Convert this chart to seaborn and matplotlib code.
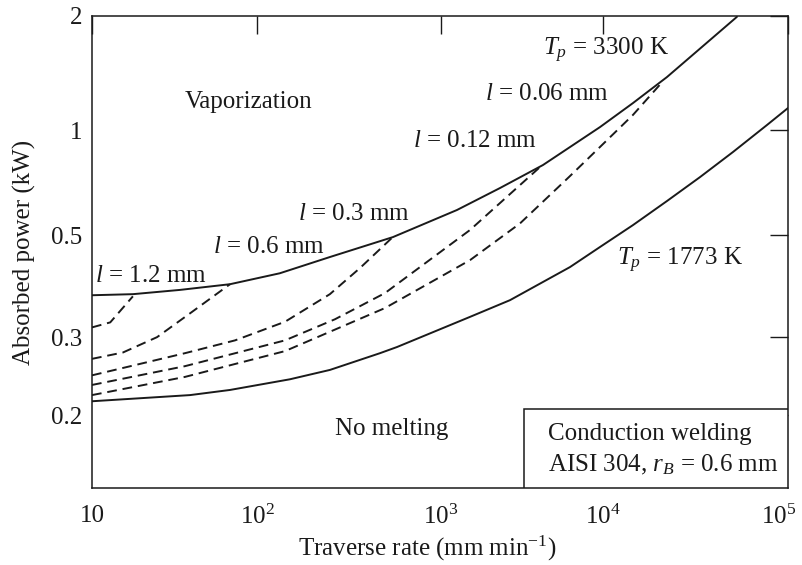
import numpy as np
import pandas as pd
import seaborn as sns
import matplotlib.pyplot as plt
import matplotlib.transforms as mtransforms
from matplotlib.patches import Rectangle
from matplotlib.ticker import FixedLocator, FixedFormatter, NullLocator

# Curves (traverse rate in mm/min, absorbed power in kW)
rate_3300 = [10, 17.7, 34.1, 68.6, 133, 249, 548, 1255, 2313, 4264, 9580, 14520, 22180, 33450, 53000]
power_3300 = [0.370, 0.372, 0.380, 0.391, 0.413, 0.448, 0.495, 0.590, 0.682, 0.794, 1.018, 1.178, 1.38, 1.64, 1.99]

rate_1773 = [10, 39.3, 68.6, 151, 249, 466, 577, 1510, 2667, 6255, 9580, 14520, 22180, 33450, 50430, 77000, 100000]
power_1773 = [0.215, 0.222, 0.228, 0.241, 0.253, 0.276, 0.285, 0.332, 0.361, 0.426, 0.471, 0.534, 0.626, 0.733, 0.865, 1.031, 1.143]

rate_l12 = [10, 12.9, 17.7]
power_l12 = [0.315, 0.323, 0.368]
rate_l06 = [10, 15.4, 24.8, 39.3, 68.6]
power_l06 = [0.268, 0.277, 0.300, 0.338, 0.391]
rate_l03 = [10, 36.6, 73.6, 142, 249, 363, 541]
power_l03 = [0.246, 0.276, 0.295, 0.324, 0.372, 0.424, 0.493]
rate_l012 = [10, 36.6, 142, 265, 496, 1510, 4084]
power_l012 = [0.234, 0.258, 0.295, 0.328, 0.374, 0.517, 0.783]
rate_l006 = [10, 36.6, 142, 496, 1510, 3075, 6255, 9580, 14520, 21100]
power_l006 = [0.222, 0.244, 0.279, 0.347, 0.441, 0.540, 0.738, 0.894, 1.096, 1.345]

x_ticks = [10, 100, 1000, 10000, 100000]
x_ticklabels = ["10", "$10^2$", "$10^3$", "$10^4$", "$10^5$"]
y_ticks = [0.2, 0.3, 0.5, 1, 2]
y_ticklabels = ["0.2", "0.3", "0.5", "1", "2"]

curves = [
    ("Tp3300", "solid", rate_3300, power_3300),
    ("Tp1773", "solid", rate_1773, power_1773),
    ("l1.2", "dashed", rate_l12, power_l12),
    ("l0.6", "dashed", rate_l06, power_l06),
    ("l0.3", "dashed", rate_l03, power_l03),
    ("l0.12", "dashed", rate_l012, power_l012),
    ("l0.06", "dashed", rate_l006, power_l006),
]
df = pd.concat(
    [pd.DataFrame({"rate": r, "power": p, "curve": name, "kind": kind}) for name, kind, r, p in curves],
    ignore_index=True,
)


# the printed log axes are not evenly spaced, so follow the printed decades
def piecewise_log(logs, pos):
    logs = np.asarray(logs, float)
    pos = np.asarray(pos, float)
    s_lo = (pos[1] - pos[0]) / (logs[1] - logs[0])
    s_hi = (pos[-1] - pos[-2]) / (logs[-1] - logs[-2])

    def fwd(v):
        lv = np.log10(np.maximum(np.asarray(v, float), 1e-9))
        out = np.interp(lv, logs, pos)
        out = np.where(lv < logs[0], pos[0] + (lv - logs[0]) * s_lo, out)
        out = np.where(lv > logs[-1], pos[-1] + (lv - logs[-1]) * s_hi, out)
        return out

    def inv(p):
        p = np.asarray(p, float)
        lv = np.interp(p, pos, logs)
        lv = np.where(p < pos[0], logs[0] + (p - pos[0]) / s_lo, lv)
        lv = np.where(p > pos[-1], logs[-1] + (p - pos[-1]) / s_hi, lv)
        return 10 ** lv

    return fwd, inv


sns.set_style("white")
plt.rcParams["font.family"] = ["Liberation Serif", "DejaVu Serif"]
plt.rcParams["mathtext.fontset"] = "custom"
plt.rcParams["mathtext.rm"] = "Liberation Serif"
plt.rcParams["mathtext.it"] = "Liberation Serif:italic"
plt.rcParams["axes.unicode_minus"] = True

fig = plt.figure(figsize=(8.02, 5.65), dpi=100)
ax = fig.add_axes([0.1147, 0.1363, 0.8678, 0.8354])

ink = "#1a1a1a"
sns.lineplot(data=df, x="rate", y="power", units="curve", estimator=None,
             style="kind", dashes={"solid": "", "dashed": (5, 3)},
             color=ink, linewidth=1.4, legend=False, ax=ax)

ax.set_xscale("function", functions=piecewise_log(np.log10(x_ticks), [0, 165, 349, 511, 696]))
ax.set_yscale("function", functions=piecewise_log(np.log10(y_ticks), [73, 151, 253, 358, 472]))
ax.set_xlim(10, 1e5)
ax.set_ylim(0.137, 2)

ax.xaxis.set_major_locator(FixedLocator(x_ticks))
ax.xaxis.set_major_formatter(FixedFormatter(x_ticklabels))
ax.yaxis.set_major_locator(FixedLocator(y_ticks))
ax.yaxis.set_major_formatter(FixedFormatter(y_ticklabels))
ax.xaxis.set_minor_locator(NullLocator())
ax.yaxis.set_minor_locator(NullLocator())

ax.tick_params(direction="in", length=13, width=1.0, color=ink, top=True, right=True,
               labelsize=18, labelcolor=ink)
ax.tick_params(axis="x", pad=12)
ax.tick_params(axis="y", pad=7)
for s in ax.spines.values():
    s.set_color(ink)
    s.set_linewidth(1.1)

# keep the last x tick label inside the figure
last = ax.get_xticklabels()[-1]
last.set_transform(last.get_transform() + mtransforms.ScaledTranslation(-7 / 72, 0, fig.dpi_scale_trans))

ax.set_xlabel("Traverse rate (mm min$^{-1}$)", fontsize=18, color=ink)
ax.set_ylabel("Absorbed power (kW)", fontsize=18, color=ink)
ax.xaxis.set_label_coords(0.481, -0.097)
ax.yaxis.set_label_coords(-0.08, 0.5)

# region and curve labels
labels = [
    (0.1336, 0.805, "Vaporization"),
    (0.0043, 0.4364, "$l$ = 1.2 mm"),
    (0.1739, 0.4979, "$l$ = 0.6 mm"),
    (0.296, 0.5678, "$l$ = 0.3 mm"),
    (0.4612, 0.7225, "$l$ = 0.12 mm"),
    (0.5647, 0.822, "$l$ = 0.06 mm"),
    (0.648, 0.9174, "$T_p$ = 3300 K"),
    (0.7543, 0.4725, "$T_p$ = 1773 K"),
    (0.3491, 0.1123, "No melting"),
]
for fx, fy, txt in labels:
    ax.text(fx, fy, txt, transform=ax.transAxes, ha="left", va="baseline", fontsize=18, color=ink)

# conditions box in the lower right corner
ax.add_patch(Rectangle((0.6207, 0), 1 - 0.6207, 0.1674, transform=ax.transAxes,
                       facecolor="white", edgecolor=ink, linewidth=1.1, zorder=3))
ax.text(0.6552, 0.1017, "Conduction welding", transform=ax.transAxes,
        ha="left", va="baseline", fontsize=18, color=ink, zorder=4)
ax.text(0.6552, 0.036, "AISI 304, $r_B$ = 0.6 mm", transform=ax.transAxes,
        ha="left", va="baseline", fontsize=18, color=ink, zorder=4)

fig.savefig("out.png", dpi=100)
